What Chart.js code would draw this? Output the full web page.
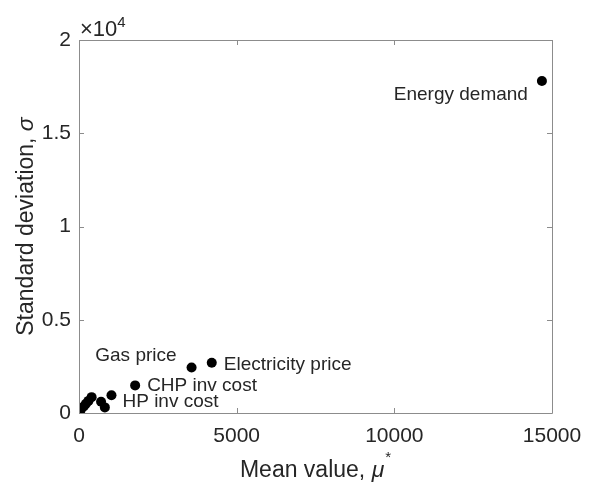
<!DOCTYPE html>
<html>
<head>
<meta charset="utf-8">
<script src="https://cdn.jsdelivr.net/npm/chart.js@4.4.1/dist/chart.umd.min.js"></script>
<style>
  html, body { margin: 0; padding: 0; background: #fff; }
  #wrap { width: 589px; height: 484px; }
</style>
</head>
<body>
<div id="wrap"><canvas id="c" width="589" height="484"></canvas></div>
<script>
// ---- data ----
const meanValues = [50, 150, 220, 300, 400, 700, 820, 1030, 1780, 3570, 4210, 14680];
const stdValues  = [150, 350, 500, 650, 850, 600, 300, 950, 1480, 2440, 2690, 17800];
const pointLabels = ['', '', '', '', '', '', '', 'HP inv cost', 'CHP inv cost', 'Gas price', 'Electricity price', 'Energy demand'];
// label placement (pixel offsets from point, alignment)
const labelDx    = [0, 0, 0, 0, 0, 0, 0, 11, 12, -15, 12, -14];
const labelDy    = [0, 0, 0, 0, 0, 0, 0, 12, 6, -6, 7, 19];
const labelAlign = ['left','left','left','left','left','left','left','left','left','right','left','right'];
const xTickValues = [0, 5000, 10000, 15000];
const yTickValues = [0, 5000, 10000, 15000, 20000];
const xTitle = 'Mean value, ';
const yTitle = 'Standard deviation, ';

const FONT = '"Liberation Sans", Arial, Helvetica, sans-serif';
const TXT = '#262626';
const AXC = '#8c8c8c';

const points = meanValues.map((m, i) => ({ x: m, y: stdValues[i] }));

const decor = {
  id: 'decor',
  afterDraw(chart) {
    const ctx = chart.ctx;
    const a = chart.chartArea;
    const xs = chart.scales.x, ys = chart.scales.y;
    ctx.save();
    // box
    ctx.strokeStyle = AXC;
    ctx.lineWidth = 1;
    ctx.beginPath();
    ctx.rect(Math.round(a.left) + 0.5, Math.round(a.top) + 0.5,
             Math.round(a.right - a.left), Math.round(a.bottom - a.top));
    ctx.stroke();
    // inward ticks
    const tl = 5;
    ctx.beginPath();
    xTickValues.forEach(v => {
      const px = Math.round(xs.getPixelForValue(v)) + 0.5;
      ctx.moveTo(px, a.bottom); ctx.lineTo(px, a.bottom - tl);
      ctx.moveTo(px, a.top); ctx.lineTo(px, a.top + tl);
    });
    yTickValues.forEach(v => {
      const py = Math.round(ys.getPixelForValue(v)) + 0.5;
      ctx.moveTo(a.left, py); ctx.lineTo(a.left + tl, py);
      ctx.moveTo(a.right, py); ctx.lineTo(a.right - tl, py);
    });
    ctx.stroke();

    ctx.fillStyle = TXT;
    // exponent label
    ctx.textBaseline = 'alphabetic';
    ctx.textAlign = 'left';
    ctx.font = '22px ' + FONT;
    ctx.fillText('\u00d710', a.left + 1, 36);
    const w10 = ctx.measureText('\u00d710').width;
    ctx.font = '15px ' + FONT;
    ctx.fillText('4', a.left + 1 + w10, 27);

    // x title
    const TS = 23;
    ctx.font = TS + 'px ' + FONT;
    const wMain = ctx.measureText(xTitle).width;
    ctx.font = 'italic ' + TS + 'px ' + FONT;
    const wMu = ctx.measureText('\u03bc').width;
    ctx.font = '15px ' + FONT;
    const wStar = ctx.measureText('*').width;
    const total = wMain + wMu + wStar + 1;
    let x0 = (a.left + a.right) / 2 - total / 2;
    const by = 477;
    ctx.font = TS + 'px ' + FONT;
    ctx.fillText(xTitle, x0, by);
    ctx.font = 'italic ' + TS + 'px ' + FONT;
    ctx.fillText('\u03bc', x0 + wMain, by);
    ctx.font = '15px ' + FONT;
    ctx.fillText('*', x0 + wMain + wMu + 1, by - 15);

    // y title
    ctx.save();
    ctx.translate(33, (a.top + a.bottom) / 2);
    ctx.rotate(-Math.PI / 2);
    ctx.font = TS + 'px ' + FONT;
    const wy = ctx.measureText(yTitle).width;
    ctx.font = 'italic ' + TS + 'px ' + FONT;
    const ws = ctx.measureText('\u03c3').width;
    const ty = -(wy + ws) / 2;
    ctx.font = TS + 'px ' + FONT;
    ctx.fillText(yTitle, ty, 0);
    ctx.font = 'italic ' + TS + 'px ' + FONT;
    ctx.fillText('\u03c3', ty + wy, 0);
    ctx.restore();

    // point labels
    ctx.font = '19px ' + FONT;
    ctx.fillStyle = TXT;
    pointLabels.forEach((t, i) => {
      if (!t) return;
      const px = xs.getPixelForValue(meanValues[i]);
      const py = ys.getPixelForValue(stdValues[i]);
      ctx.textAlign = labelAlign[i];
      ctx.fillText(t, px + labelDx[i], py + labelDy[i]);
    });
    ctx.restore();
  }
};

new Chart(document.getElementById('c'), {
  type: 'scatter',
  data: {
    datasets: [{
      data: points,
      backgroundColor: '#000',
      borderWidth: 0,
      pointRadius: 5,
      pointHoverRadius: 5
    }]
  },
  options: {
    responsive: false,
    animation: false,
    events: [],
    layout: { padding: { left: 0, right: 37, top: 40, bottom: 0 } },
    plugins: { legend: { display: false }, tooltip: { enabled: false } },
    scales: {
      x: {
        type: 'linear', min: 0, max: 15000,
        afterBuildTicks(s) { s.ticks = xTickValues.map(v => ({ value: v })); },
        afterFit(s) { s.height = 71; s.paddingLeft = 0; s.paddingRight = 0; },
        grid: { display: false, drawTicks: false },
        border: { display: false },
        ticks: { color: TXT, font: { family: FONT, size: 21 }, padding: 11, maxRotation: 0,
                 callback: v => String(v) }
      },
      y: {
        type: 'linear', min: 0, max: 20000,
        afterBuildTicks(s) { s.ticks = yTickValues.map(v => ({ value: v })); },
        afterFit(s) { s.width = 79; s.paddingTop = 0; s.paddingBottom = 0; },
        grid: { display: false, drawTicks: false },
        border: { display: false },
        ticks: { color: TXT, font: { family: FONT, size: 21 }, padding: 8,
                 callback: v => String(v / 10000) }
      }
    }
  },
  plugins: [decor]
});
</script>
</body>
</html>
